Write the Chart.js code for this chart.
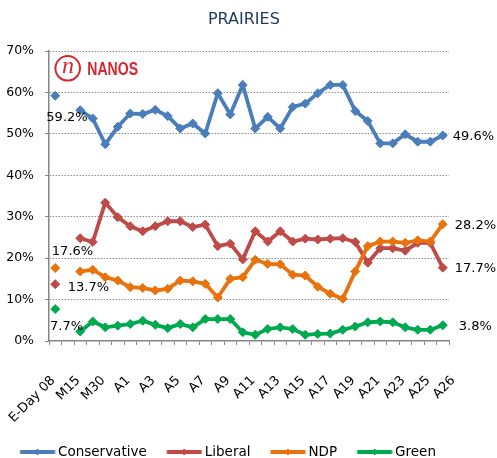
<!DOCTYPE html>
<html>
<head>
<meta charset="utf-8">
<script src="https://cdn.jsdelivr.net/npm/chart.js@4.4.1/dist/chart.umd.min.js"></script>
<style>
html,body{margin:0;padding:0;background:#fff;}
#wrap{width:497px;height:458px;position:relative;}
</style>
</head>
<body>
<div id="wrap"><canvas id="c"></canvas></div>
<script>
// ---- data ----
const categories = ["E-Day 08","","M15","M29","M30","M31","A1","A2","A3","A4","A5","A6","A7","A8","A9","A10",
  "A11","A12","A13","A14","A15","A16","A17","A18","A19","A20","A21","A22","A23","A24","A25","A26"];
const tickLabels = ["E-Day 08","M15","M30","A1","A3","A5","A7","A9","A11","A13","A15","A17","A19","A21","A23","A25","A26"];
const yTicks = [0,10,20,30,40,50,60,70];
const seriesNames = ["Conservative","Liberal","NDP","Green"];
const conservative = [59.2,null,55.7,53.7,47.5,51.7,54.9,54.8,55.8,54.3,51.3,52.5,50.1,59.8,54.7,61.8,
  51.3,54.1,51.3,56.5,57.3,59.8,61.8,61.8,55.5,53.1,47.7,47.7,49.9,48.1,48.1,49.6];
const liberal = [13.7,null,24.8,23.9,33.4,29.9,27.7,26.5,27.7,28.9,28.9,27.5,28.1,22.9,23.5,19.7,
  26.5,24.0,26.5,24.0,24.7,24.5,24.7,24.8,23.9,18.9,22.4,22.4,21.8,23.7,23.7,17.7];
const ndp = [17.6,null,16.8,17.2,15.4,14.6,13.0,12.8,12.2,12.6,14.6,14.4,13.8,10.5,15.0,15.4,
  19.6,18.6,18.5,16.0,15.8,13.1,11.4,10.2,16.8,22.9,24.0,24.0,23.7,24.3,24.0,28.2];
const green = [7.7,null,2.3,4.7,3.3,3.7,4.1,4.9,3.9,3.1,4.1,3.3,5.3,5.3,5.3,2.1,
  1.5,2.9,3.3,2.9,1.5,1.7,1.8,2.7,3.5,4.5,4.7,4.5,3.3,2.7,2.7,3.8];

// ---- styles ----
const colors = ["#4A7EBB","#BE4B48","#E8720C","#00A94F"];
const FONT = "'DejaVu Sans', Verdana, sans-serif";

function legendMark(color){
  const c = document.createElement('canvas');
  c.width = 60; c.height = 10;
  const g = c.getContext('2d');
  g.strokeStyle = color; g.lineWidth = 4; g.lineCap = 'butt';
  g.beginPath(); g.moveTo(24.4,5); g.lineTo(59.4,5); g.stroke();
  g.fillStyle = color;
  g.beginPath(); g.moveTo(41.9,1.5); g.lineTo(45.4,5); g.lineTo(41.9,8.5); g.lineTo(38.4,5); g.closePath(); g.fill();
  return c;
}
const marks = colors.map(legendMark);

const allSeries = [conservative, liberal, ndp, green];
const datasets = allSeries.map((arr, k) => ({
  label: seriesNames[k],
  data: arr.map((v, i) => ({x: i, y: v})),
  borderColor: colors[k],
  backgroundColor: colors[k],
  pointBackgroundColor: colors[k],
  pointBorderColor: colors[k],
  borderWidth: 3.8,
  pointStyle: 'rectRot',
  pointRadius: 4.5,
  pointBorderWidth: 1,
  spanGaps: false,
  tension: 0,
  order: 3 - k
}));

// end-value labels: [datasetIndex, pointIndex, dx, dy, align]
const valueLabels = [
  [0, 0, 11.75, 21.7, 'center'],
  [2, 0, 17.25, -16.6, 'center'],
  [1, 0, 12.5, 3.6, 'left'],
  [3, 0, 11.25, 17.2, 'center'],
  [0, 31, 10, 1.4, 'left'],
  [2, 31, 12, 1, 'left'],
  [1, 31, 12, 0.5, 'left'],
  [3, 31, 16, 1, 'left']
];

const labelPlugin = {
  id: 'valueLabels',
  afterDatasetsDraw(chart) {
    const {ctx, scales} = chart;
    ctx.save();
    ctx.font = "13px " + FONT;
    ctx.fillStyle = '#000';
    ctx.textBaseline = 'middle';
    valueLabels.forEach(([d, i, dx, dy, al]) => {
      const v = allSeries[d][i];
      const px = scales.x.getPixelForValue(i);
      const py = scales.y.getPixelForValue(v);
      ctx.textAlign = al;
      ctx.fillText(v.toFixed(1) + '%', px + dx, py + dy);
    });
    ctx.restore();
  }
};

const logoPlugin = {
  id: 'logo',
  afterDraw(chart) {
    const ctx = chart.ctx;
    ctx.save();
    ctx.strokeStyle = '#D7282F';
    ctx.lineWidth = 2;
    ctx.beginPath(); ctx.arc(67.7, 68.3, 12.3, 0, Math.PI * 2); ctx.stroke();
    ctx.fillStyle = '#D7282F';
    ctx.font = "italic 24px 'Liberation Serif', serif";
    ctx.textAlign = 'center'; ctx.textBaseline = 'middle';
    ctx.fillText('n', 68, 66.5);
    ctx.font = "bold 18.5px 'Liberation Sans', Arial, sans-serif";
    ctx.textAlign = 'left'; ctx.textBaseline = 'alphabetic';
    ctx.translate(87.3, 75);
    ctx.scale(0.76, 1);
    ctx.fillText('NANOS', 0, 0);
    ctx.restore();
  }
};

new Chart(document.getElementById('c'), {
  type: 'line',
  data: { datasets },
  plugins: [labelPlugin, logoPlugin],
  options: {
    responsive: true,
    maintainAspectRatio: false,
    animation: false,
    events: [],
    layout: { padding: { left: 0, right: 48, top: 0, bottom: -10.75 } },
    plugins: {
      tooltip: { enabled: false },
      title: {
        display: true,
        text: 'PRAIRIES  ',
        fullSize: false,
        color: '#1F3B66',
        font: { family: FONT, size: 16, weight: 'normal' },
        padding: { top: 10, bottom: 21.8 }
      },
      legend: {
        position: 'bottom',
        align: 'start',
        labels: {
          usePointStyle: true,
          pointStyleWidth: 51.25,
          padding: 0,
          color: '#000',
          font: { family: FONT, size: 13.5 },
          sort: (a, b) => a.datasetIndex - b.datasetIndex,
          generateLabels: (chart) => {
            const items = Chart.defaults.plugins.legend.labels.generateLabels(chart);
            items.forEach(it => { it.pointStyle = marks[it.datasetIndex]; });
            return items;
          }
        }
      }
    },
    scales: {
      x: {
        type: 'linear',
        min: -0.5,
        max: categories.length - 0.5,
        afterBuildTicks: (s) => {
          const t = [];
          for (let v = -0.5; v <= categories.length - 0.5; v += 1) t.push({ value: v });
          tickLabels.forEach((l, k) => t.push({ value: 2 * k }));
          t.sort((a, b) => a.value - b.value);
          s.ticks = t;
        },
        afterFit: (s) => { s.height = 104.25; },
        ticks: {
          autoSkip: false,
          minRotation: 45,
          maxRotation: 45,
          padding: 28,
          labelOffset: -2,
          color: '#000',
          font: { family: FONT, size: 13 },
          callback: (v) => (Number.isInteger(v) && v % 2 === 0 && tickLabels[v / 2] !== undefined) ? tickLabels[v / 2] : ''
        },
        grid: {
          drawOnChartArea: false,
          drawTicks: true,
          tickLength: 4,
          tickWidth: 1,
          tickColor: (c) => (c.tick && Number.isInteger(c.tick.value)) ? 'rgba(0,0,0,0)' : '#868686'
        },
        border: { display: true, color: '#868686', width: 1.5 }
      },
      y: {
        min: 0,
        max: 70,
        afterBuildTicks: (s) => { s.ticks = yTicks.map(v => ({ value: v })); },
        afterFit: (s) => { s.width = 49; },
        ticks: {
          padding: 11,
          color: '#000',
          font: { family: FONT, size: 12.5 },
          callback: (v) => v + '%'
        },
        grid: {
          color: (c) => (c.tick && c.tick.value === 0) ? 'rgba(0,0,0,0)' : '#8C8C8C',
          lineWidth: 1,
          drawTicks: true,
          tickLength: 4,
          tickColor: '#868686',
          tickBorderDash: []
        },
        border: { display: true, color: '#868686', width: 1.5, dash: [1.5, 1.5] }
      }
    }
  }
});
</script>
</body>
</html>
